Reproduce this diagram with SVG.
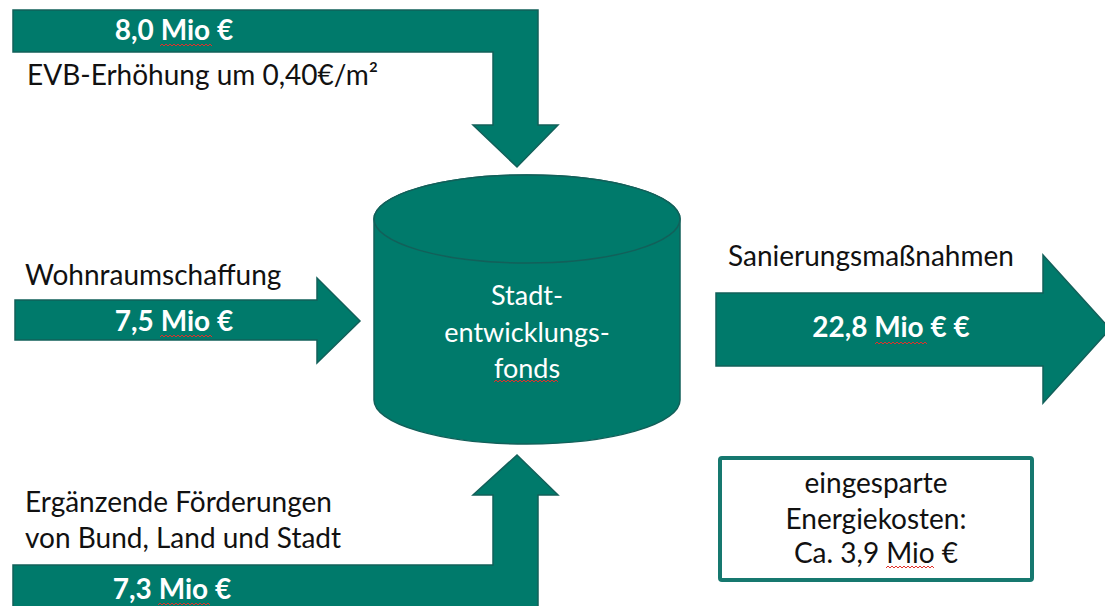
<svg xmlns="http://www.w3.org/2000/svg" width="1105" height="606" viewBox="0 0 1105 606">
<style>
.shape{fill:#007A6B;stroke:#12605A;stroke-width:1.5;stroke-linejoin:miter}
.lbl{font-family:Lato,"Liberation Sans",sans-serif;font-size:28px;fill:#111}
.val{font-family:Lato,"Liberation Sans",sans-serif;font-size:28px;font-weight:bold;fill:#fff;text-anchor:middle}
.cyl{font-family:Lato,"Liberation Sans",sans-serif;font-size:27px;fill:#fff;text-anchor:middle}
.box{fill:#fff;stroke:#16786F;stroke-width:4}
.boxt{font-family:Lato,"Liberation Sans",sans-serif;font-size:28px;fill:#111;text-anchor:middle}
.wave{fill:none;stroke:#E0302A;stroke-width:1}
</style>
<rect width="1105" height="606" fill="#fff"/>
<g id="connectors">
  <g id="arrow-top">
    <path class="shape" d="M13,10 H538 V125 H558 L517,167 L473,125 H493 V52 H13 Z"/>
    <text class="val" x="174" y="40">8,0 Mio €</text>
    <path class="wave" d="M160,46 l2,-2 l2,2 l2,-2 l2,2 l2,-2 l2,2 l2,-2 l2,2 l2,-2 l2,2 l2,-2 l2,2 l2,-2 l2,2 l2,-2 l2,2 l2,-2 l2,2 l2,-2 l2,2 l2,-2 l2,2 l2,-2 l2,2 l2,-2 l2,2"/>
    <text class="lbl" x="27" y="85">EVB-Erhöhung um 0,40€/m²</text>
  </g>
  <g id="arrow-left">
    <text class="lbl" x="25" y="285">Wohnraumschaffung</text>
    <path class="shape" d="M15,300 H317 V278 L360,321 L317,363 V340 H15 Z"/>
    <text class="val" x="174" y="331">7,5 Mio €</text>
    <path class="wave" d="M160,337 l2,-2 l2,2 l2,-2 l2,2 l2,-2 l2,2 l2,-2 l2,2 l2,-2 l2,2 l2,-2 l2,2 l2,-2 l2,2 l2,-2 l2,2 l2,-2 l2,2 l2,-2 l2,2 l2,-2 l2,2 l2,-2 l2,2 l2,-2 l2,2"/>
  </g>
  <g id="arrow-bottom">
    <text class="lbl" x="25" y="512">Ergänzende Förderungen</text>
    <text class="lbl" x="25" y="548">von Bund, Land und Stadt</text>
    <path class="shape" d="M13,612 V565 H493 V495 H473 L517,455 L558,495 H538 V612 Z"/>
    <text class="val" x="172" y="599">7,3 Mio €</text>
    <path class="wave" d="M158,605 l2,-2 l2,2 l2,-2 l2,2 l2,-2 l2,2 l2,-2 l2,2 l2,-2 l2,2 l2,-2 l2,2 l2,-2 l2,2 l2,-2 l2,2 l2,-2 l2,2 l2,-2 l2,2 l2,-2 l2,2 l2,-2 l2,2 l2,-2 l2,2"/>
  </g>
  <g id="arrow-right">
    <text class="lbl" x="728" y="266">Sanierungsmaßnahmen</text>
    <path class="shape" d="M716,293 H1043 V255 L1110,329 L1043,403 V366 H716 Z"/>
    <text class="val" x="891" y="337">22,8 Mio € €</text>
    <path class="wave" d="M875,344 l2,-2 l2,2 l2,-2 l2,2 l2,-2 l2,2 l2,-2 l2,2 l2,-2 l2,2 l2,-2 l2,2 l2,-2 l2,2 l2,-2 l2,2 l2,-2 l2,2 l2,-2 l2,2 l2,-2 l2,2 l2,-2 l2,2 l2,-2 l2,2"/>
  </g>
</g>
<g id="fonds">
  <path class="shape" d="M374,219 V400 A153,44 0 0 0 680,400 V219 A153,44 0 0 0 374,219 Z"/>
  <ellipse class="shape" cx="527" cy="219" rx="153" ry="44"/>
  <text class="cyl" x="527" y="305">Stadt-</text>
  <text class="cyl" x="527" y="342">entwicklungs-</text>
  <text class="cyl" x="527" y="378">fonds</text>
  <path class="wave" d="M494,382 l2,-2 l2,2 l2,-2 l2,2 l2,-2 l2,2 l2,-2 l2,2 l2,-2 l2,2 l2,-2 l2,2 l2,-2 l2,2 l2,-2 l2,2 l2,-2 l2,2 l2,-2 l2,2 l2,-2 l2,2 l2,-2 l2,2 l2,-2 l2,2 l2,-2 l2,2 l2,-2 l2,2 l2,-2 l2,2"/>
</g>
<g id="savings">
  <rect class="box" x="720" y="458" width="312" height="122" rx="2"/>
  <text class="boxt" x="876" y="493">eingesparte</text>
  <text class="boxt" x="876" y="529">Energiekosten:</text>
  <text class="boxt" x="876" y="563">Ca. 3,9 Mio €</text>
  <path class="wave" d="M886,568 l2,-2 l2,2 l2,-2 l2,2 l2,-2 l2,2 l2,-2 l2,2 l2,-2 l2,2 l2,-2 l2,2 l2,-2 l2,2 l2,-2 l2,2 l2,-2 l2,2 l2,-2 l2,2 l2,-2 l2,2 l2,-2 l2,2"/>
</g>
</svg>
